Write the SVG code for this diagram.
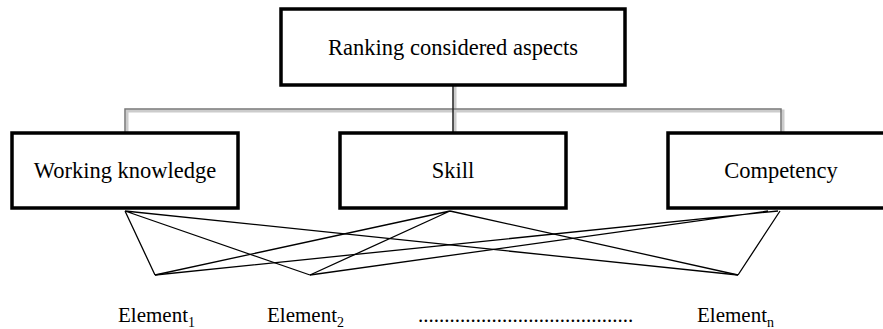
<svg xmlns="http://www.w3.org/2000/svg" width="883" height="329" viewBox="0 0 883 329">
<style>
.box{fill:#fff;stroke:#000;stroke-width:3.5}
.lbl{font-family:"Liberation Serif","Times New Roman",serif;font-size:22.5px;fill:#000;text-anchor:middle}
.el{font-family:"Liberation Serif","Times New Roman",serif;font-size:21px;fill:#000}
.sub{font-size:14px}
.shadow{fill:none;stroke:#ccc;stroke-width:3}
.tree{fill:none;stroke:#777;stroke-width:1.5}
.link{fill:none;stroke:#000;stroke-width:1.3}
</style>
<rect width="883" height="329" fill="#fff"/>
<g id="connectors">
<path class="shadow" d="M455 85V133M127 133V111H783V133"/>
<path class="tree" d="M125 133V109H781V133"/>
<path d="M453 85V133" fill="none" stroke="#222" stroke-width="1.5"/>
<path class="link" d="M125 211L155 275M125 211L310 275M125 211L738 275"/>
<path class="link" d="M450 211L155 275M450 211L310 275M450 211L738 275"/>
<path class="link" d="M778 211L155 275M768 211L310 275M780 211L738 275"/>
</g>
<g id="node-top">
<rect class="box" x="281" y="9" width="344" height="76"/>
<text class="lbl" x="453" y="55">Ranking considered aspects</text>
</g>
<g id="node-wk">
<rect class="box" x="12" y="133" width="226" height="75"/>
<text class="lbl" x="125" y="178">Working knowledge</text>
</g>
<g id="node-skill">
<rect class="box" x="340" y="133" width="226" height="75"/>
<text class="lbl" x="453" y="178">Skill</text>
</g>
<g id="node-comp">
<rect class="box" x="668" y="133" width="226" height="75"/>
<text class="lbl" x="781" y="178">Competency</text>
</g>
<g id="elements">
<text class="el" x="118" y="322">Element<tspan class="sub" dy="5">1</tspan></text>
<text class="el" x="267" y="322">Element<tspan class="sub" dy="5">2</tspan></text>
<text class="el" x="418" y="322">.........................................</text>
<text class="el" x="697" y="322">Element<tspan class="sub" dy="5">n</tspan></text>
</g>
</svg>
